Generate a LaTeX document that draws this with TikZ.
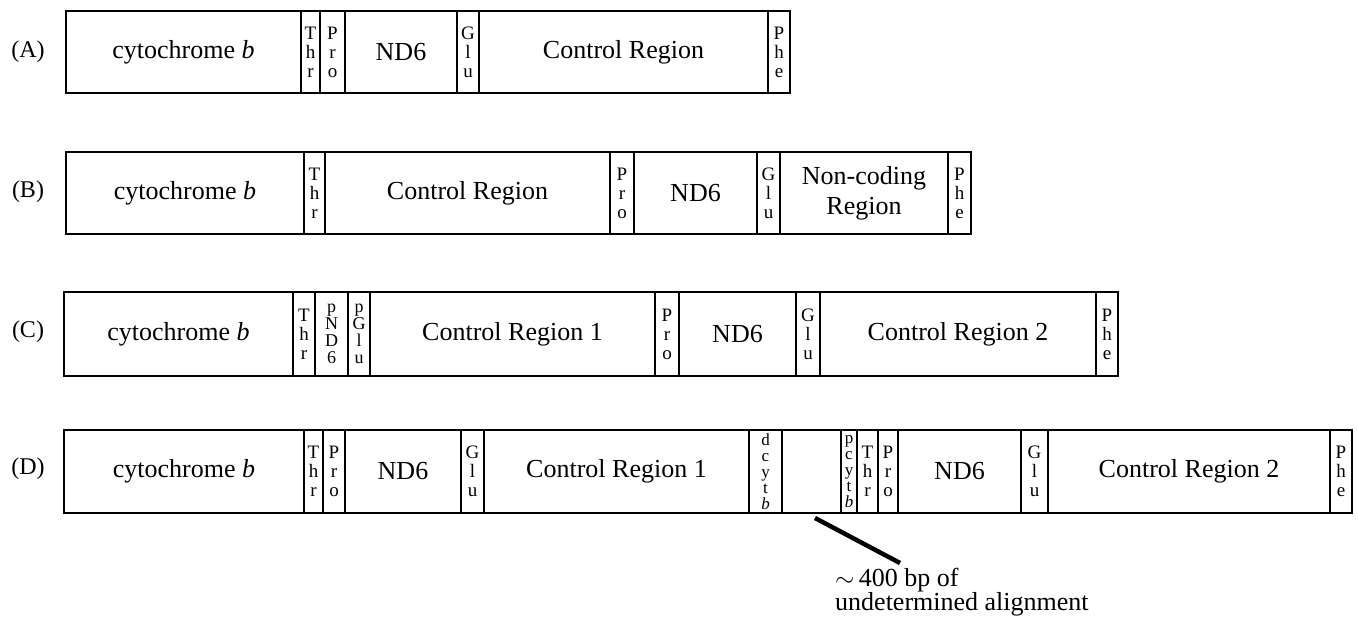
\documentclass[tikz,border=0pt]{standalone}
\usepackage{fontspec}
\setmainfont{Liberation Serif}
\newcommand\mkseg[7][]{\node[segbox,#1, minimum width={(#4-#3)*1pt}, minimum height={(#6-#5)*1pt}] (#2) at ({(#3+#4)/2},{(#5+#6)/2}) {#7};}
\begin{document}
\begin{tikzpicture}[x=1pt,y=-1pt,
  segbox/.style={draw, line width=1.7pt, inner sep=0pt, outer sep=0pt, align=center, font=\fontsize{26}{30}\selectfont},
  vthree/.style={font=\fontsize{19}{19}\selectfont},
  vfour/.style={font=\fontsize{18}{17}\selectfont},
  vfive/.style={font=\fontsize{17}{16}\selectfont},
  rowlab/.style={font=\fontsize{24}{26}\selectfont, inner sep=0pt},
  notetext/.style={font=\fontsize{26}{24}\selectfont, align=left, inner sep=0pt, anchor=north west}]
\useasboundingbox (0,0) rectangle (1358,622);
% Row A
\node[rowlab] (la) at (28,52) {(A)};
\mkseg{a1}{66}{301}{11}{93}{cytochrome \textit{b}}
\mkseg[vthree]{a2}{301}{320}{11}{93}{T\\h\\r}
\mkseg[vthree]{a3}{320}{345}{11}{93}{P\\r\\o}
\mkseg{a4}{345}{457}{11}{93}{ND6}
\mkseg[vthree]{a5}{457}{479}{11}{93}{G\\l\\u}
\mkseg{a6}{479}{768}{11}{93}{Control Region}
\mkseg[vthree]{a7}{768}{790}{11}{93}{P\\h\\e}
% Row B
\node[rowlab] (lb) at (28,192) {(B)};
\mkseg{b1}{66}{304}{152}{234}{cytochrome \textit{b}}
\mkseg[vthree]{b2}{304}{325}{152}{234}{T\\h\\r}
\mkseg{b3}{325}{610}{152}{234}{Control Region}
\mkseg[vthree]{b4}{610}{634}{152}{234}{P\\r\\o}
\mkseg{b5}{634}{757}{152}{234}{ND6}
\mkseg[vthree]{b6}{757}{780}{152}{234}{G\\l\\u}
\mkseg{b7}{780}{948}{152}{234}{Non-coding\\Region}
\mkseg[vthree]{b8}{948}{971}{152}{234}{P\\h\\e}
% Row C
\node[rowlab] (lc) at (28,332) {(C)};
\mkseg{c1}{64}{293}{292}{376}{cytochrome \textit{b}}
\mkseg[vthree]{c2}{293}{315}{292}{376}{T\\h\\r}
\mkseg[vfour]{c3}{315}{348}{292}{376}{p\\N\\D\\6}
\mkseg[vfour]{c4}{348}{370}{292}{376}{p\\G\\l\\u}
\mkseg{c5}{370}{655}{292}{376}{Control Region 1}
\mkseg[vthree]{c6}{655}{679}{292}{376}{P\\r\\o}
\mkseg{c7}{679}{796}{292}{376}{ND6}
\mkseg[vthree]{c8}{796}{820}{292}{376}{G\\l\\u}
\mkseg{c9}{820}{1096}{292}{376}{Control Region 2}
\mkseg[vthree]{c10}{1096}{1118}{292}{376}{P\\h\\e}
% Row D
\node[rowlab] (ld) at (28,469) {(D)};
\mkseg{d1}{64}{304}{430}{513}{cytochrome \textit{b}}
\mkseg[vthree]{d2}{304}{323}{430}{513}{T\\h\\r}
\mkseg[vthree]{d3}{323}{345}{430}{513}{P\\r\\o}
\mkseg{d4}{345}{461}{430}{513}{ND6}
\mkseg[vthree]{d5}{461}{484}{430}{513}{G\\l\\u}
\mkseg{d6}{484}{749}{430}{513}{Control Region 1}
\mkseg[vfive]{d7}{749}{782}{430}{513}{d\\c\\y\\t\\\textit{b}}
\mkseg{d8}{782}{841}{430}{513}{}
\mkseg[vfive]{d9}{841}{857}{430}{513}{p\\c\\y\\t\\\textit{b}}
\mkseg[vthree]{d10}{857}{878}{430}{513}{T\\h\\r}
\mkseg[vthree]{d11}{878}{898}{430}{513}{P\\r\\o}
\mkseg{d12}{898}{1021}{430}{513}{ND6}
\mkseg[vthree]{d13}{1021}{1048}{430}{513}{G\\l\\u}
\mkseg{d14}{1048}{1330}{430}{513}{Control Region 2}
\mkseg[vthree]{d15}{1330}{1352}{430}{513}{P\\h\\e}
% annotation
\coordinate (pa) at (815,518);
\coordinate (pb) at (900,563);
\draw[line width=4.5pt] (pa) -- (pb);
\node[notetext] (note) at (835,568) {$\sim$\,400 bp of\\undetermined alignment};
\end{tikzpicture}
\end{document}
